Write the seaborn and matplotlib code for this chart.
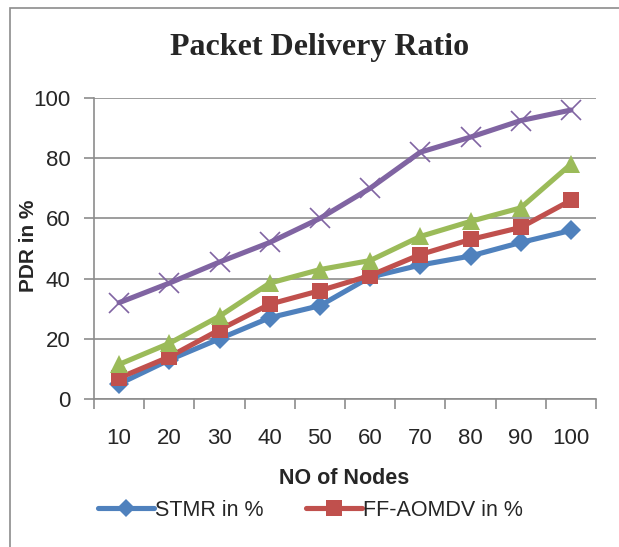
import numpy as np
import pandas as pd
import matplotlib.pyplot as plt
import matplotlib.patches as mpatches
import seaborn as sns

# data
nodes = ["10", "20", "30", "40", "50", "60", "70", "80", "90", "100"]
stmr = [5, 13, 20, 27, 31, 40.5, 44.5, 47.5, 52, 56]
ff_aomdv = [7, 14, 23, 31.5, 36, 41, 48, 53, 57, 66]
green_series = [11.5, 18.5, 27.5, 38.5, 43, 46, 54, 59, 63.5, 78]
purple_series = [32, 38.5, 45.5, 52, 60, 70, 82, 87, 92.5, 96]

sns.set_style("white")
plt.rcParams['font.family'] = ['Liberation Sans', 'DejaVu Sans']

fig = plt.figure(figsize=(6.19, 5.47), dpi=100)
ax = fig.add_axes([94 / 619, 1 - 399 / 547, 502 / 619, 301 / 547])

# outer chart border (like the Excel chart area)
fig.add_artist(mpatches.Rectangle((10 / 619, -0.1), 1.2, 1 - 8 / 547 + 0.1,
                                  transform=fig.transFigure, fill=False,
                                  edgecolor="#8c8c8c", linewidth=1.2))

series = [
    (stmr, "#4F81BD", "D", 10, "STMR in %"),
    (ff_aomdv, "#C0504D", "s", 12, "FF-AOMDV in %"),
    (green_series, "#9BBB59", "^", 13, None),
    (purple_series, "#8064A2", "x", 15, None),
]
handles = []
for vals, col, mk, ms, lab in series:
    df = pd.DataFrame({"nodes": nodes, "pdr": vals})
    sns.lineplot(data=df, x="nodes", y="pdr", ax=ax, color=col, linewidth=3.7,
                 marker=mk, markersize=ms, markeredgecolor=col,
                 markeredgewidth=1.2 if mk == "x" else 0, sort=False)
    if lab is not None:
        handles.append(plt.Line2D([], [], color=col, linewidth=3.7, marker=mk,
                                  markersize=ms - 1, markeredgewidth=0, label=lab))

ax.set_ylim(0, 100)
ax.set_xlim(-0.5, 9.5)
ax.set_yticks(np.arange(0, 101, 20))
ax.yaxis.grid(True, color="#8c8c8c", linewidth=1.2)
ax.set_axisbelow(True)
for s in ["top", "right"]:
    ax.spines[s].set_visible(False)
for s in ["left", "bottom"]:
    ax.spines[s].set_color("#8c8c8c")
    ax.spines[s].set_linewidth(1.2)

ax.set_xticks(np.arange(10), nodes)
ax.set_xticks(np.arange(-0.5, 10, 1), minor=True)
ax.tick_params(axis="x", which="major", length=0, pad=21, labelsize=16)
ax.tick_params(axis="x", which="minor", length=7, color="#8c8c8c", width=1.2,
               direction="out", bottom=True)
ax.tick_params(axis="y", length=7, color="#8c8c8c", width=1.2, direction="out",
               left=True, labelsize=16, pad=10)

ax.set_xlabel("NO of Nodes", fontsize=15.5, fontweight="bold", va="center")
ax.xaxis.set_label_coords(0.498, (399 - 478) / 301)
ax.set_ylabel("PDR in %", fontsize=15, fontweight="bold", va="center")
ax.yaxis.set_label_coords((28 - 94) / 502, (399 - 246) / 301)

fig.text(320 / 619, 1 - 48 / 547, "Packet Delivery Ratio", ha="center",
         va="center", fontsize=23, fontweight="bold", family="Liberation Serif")

fig.legend(handles=handles, loc="center left", bbox_to_anchor=(87 / 619, 1 - 510 / 547),
           ncol=2, frameon=False, fontsize=15.5, handlelength=2.6, borderpad=0,
           handletextpad=0.05, columnspacing=2.0, numpoints=1)

fig.savefig("out.png", dpi=100)
